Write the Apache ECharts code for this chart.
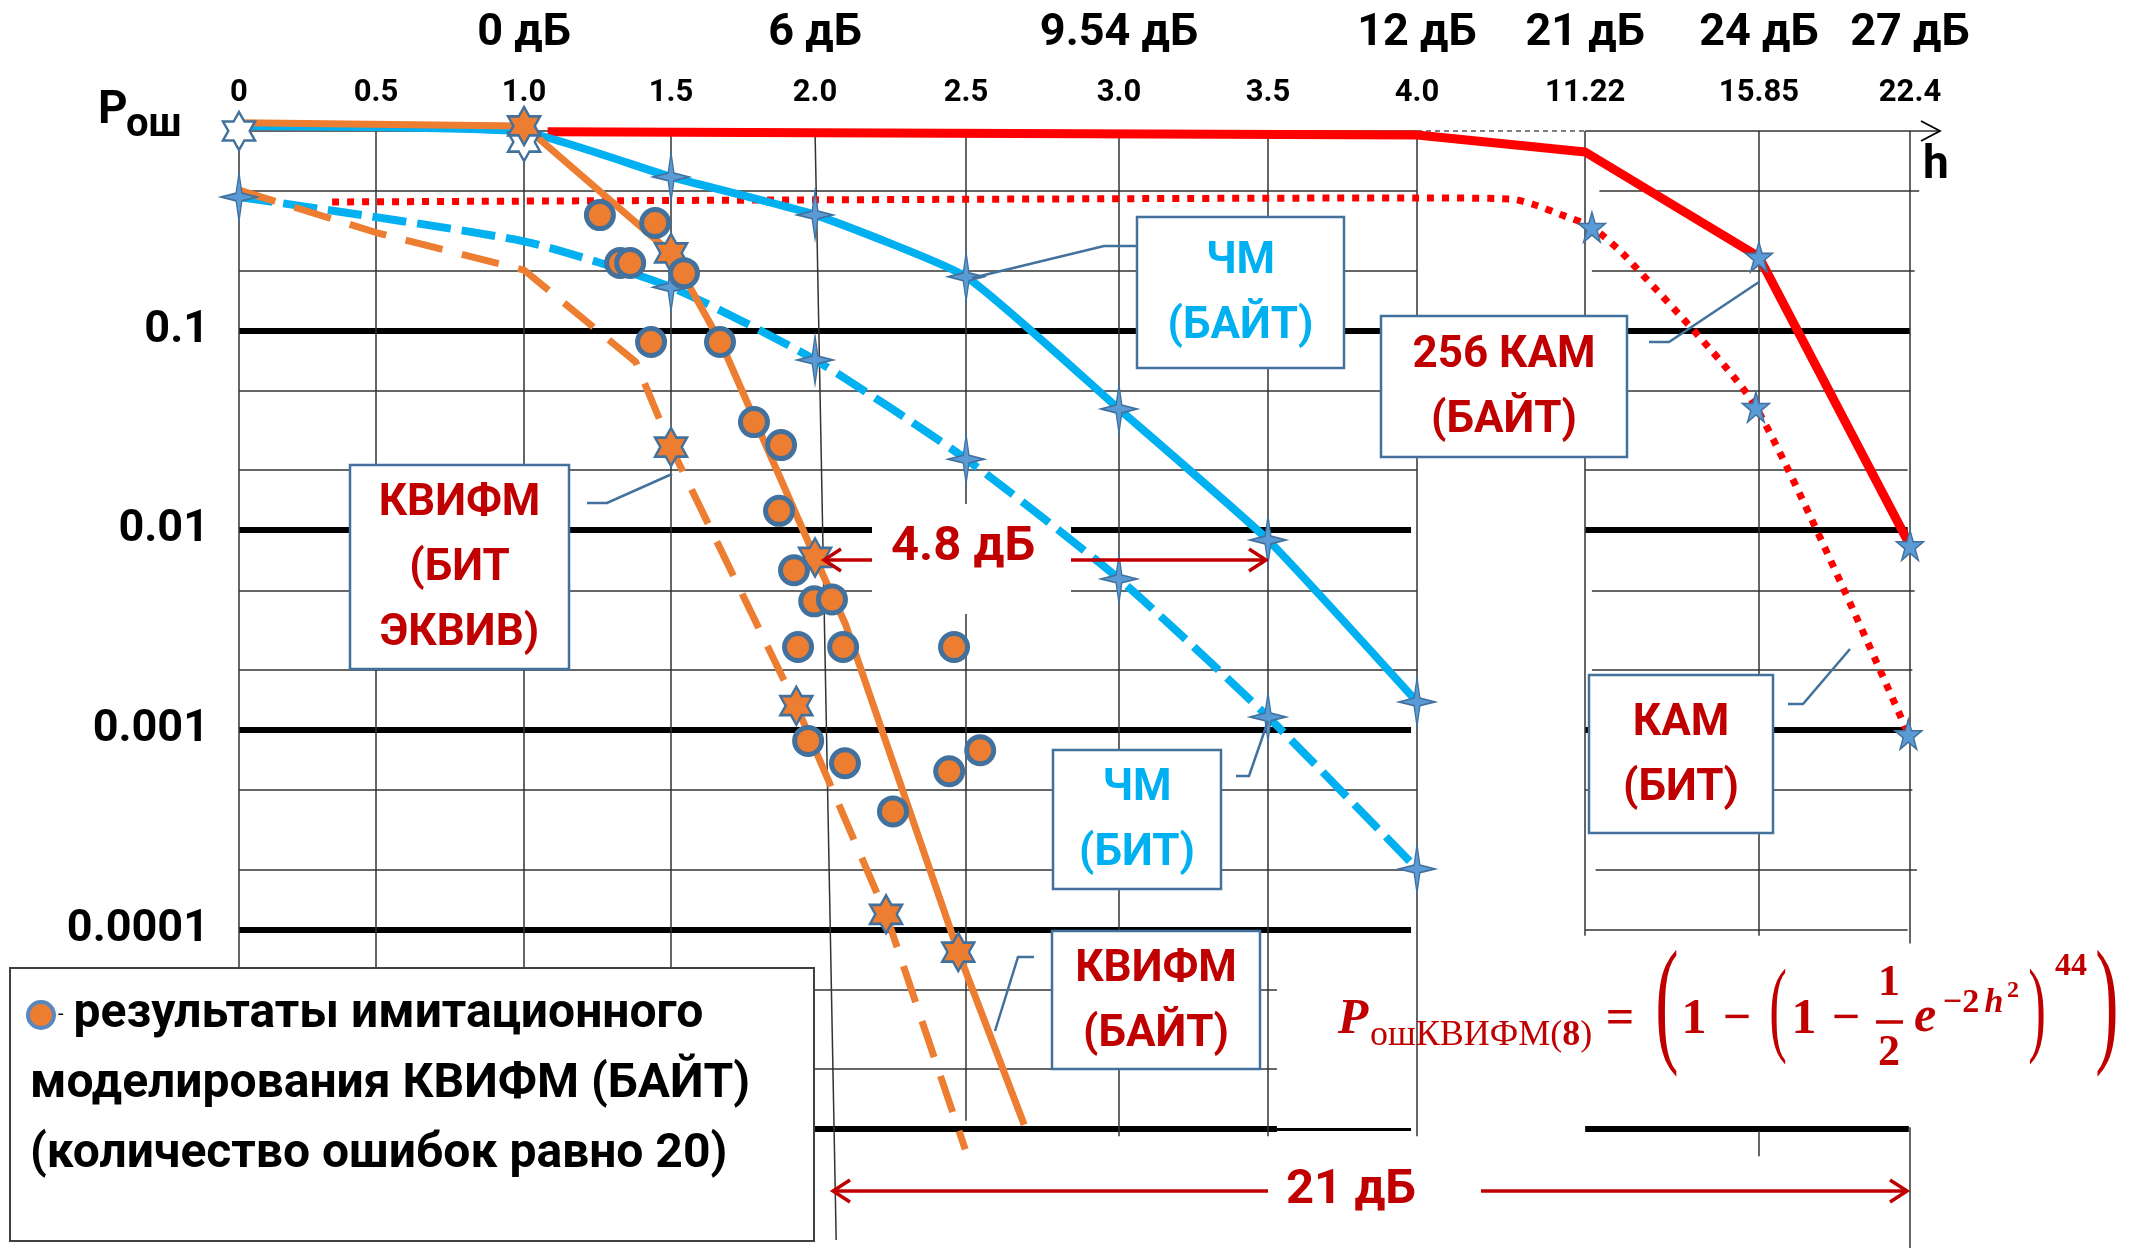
<!DOCTYPE html>
<html>
<head>
<meta charset="utf-8">
<script src="https://cdn.jsdelivr.net/npm/echarts@6/dist/echarts.min.js"></script>
<style>
  html, body { margin: 0; padding: 0; background: #fff; }
  #chart { width: 2138px; height: 1248px; }
</style>
</head>
<body>
<div id="chart"></div>
<script>
// ---- h axis ticks (signal/noise ratio h) and their dB equivalents ----
const hTicks = [0, 0.5, 1.0, 1.5, 2.0, 2.5, 3.0, 3.5, 4.0, 11.22, 15.85, 22.4];
const hTickLabels = ['0', '0.5', '1.0', '1.5', '2.0', '2.5', '3.0', '3.5', '4.0', '11.22', '15.85', '22.4'];
const dbLabels = ['', '', '0 дБ', '', '6 дБ', '', '9.54 дБ', '', '12 дБ', '21 дБ', '24 дБ', '27 дБ'];

// ---- error probability ticks ----
const pTicks = [0.1, 0.01, 0.001, 0.0001];
const pTickLabels = ['0.1', '0.01', '0.001', '0.0001'];

// ---- ЧМ (БАЙТ) ----
const fmByteH = [0, 1.0, 1.5, 2.0, 2.5, 3.0, 3.5, 4.0];
const fmByteP = [1.06, 0.99, 0.589, 0.38, 0.186, 0.0405, 0.00893, 0.00138];
// ---- ЧМ (БИТ) ----
const fmBitH = [0, 1.0, 1.5, 2.0, 2.5, 3.0, 3.5, 4.0];
const fmBitP = [0.467, 0.28, 0.165, 0.0713, 0.0227, 0.0057, 0.00116, 0.000201];
// ---- КВИФМ (БАЙТ) ----
const kvByteH = [0, 1.0, 1.5, 1.677, 2.0, 2.1, 2.474, 2.69];
const kvByteP = [1.1, 1.06, 0.245, 0.0847, 0.0073, 0.0034, 0.000077, 0.0000105];
// ---- КВИФМ (БИТ ЭКВИВ) ----
const kvBitH = [0, 0.5, 1.0, 1.38, 1.5, 1.935, 2.235, 2.497];
const kvBitP = [0.506, 0.31, 0.201, 0.0696, 0.0261, 0.00132, 0.000119, 0.0000079];
// ---- 256 КАМ (БАЙТ) ----
const qamByteH = [1.08, 4.0, 11.22, 15.85, 22.4];
const qamByteP = [0.99, 0.955, 0.785, 0.234, 0.0084];
// ---- КАМ (БИТ) ----
const qamBitH = [0.34, 4.0, 8.08, 9.07, 10.23, 11.4, 12.31, 15.77, 22.33];
const qamBitP = [0.441, 0.462, 0.456, 0.426, 0.379, 0.33, 0.234, 0.0414, 0.00095];

// ---- computed points marked with stars ----
const fmStarH = [1.5, 2.0, 2.5, 3.0, 3.5, 4.0, 0, 1.5, 2.0, 2.5, 3.0, 3.5, 4.0];
const fmStarP = [0.589, 0.38, 0.186, 0.0405, 0.00893, 0.00138, 0.467, 0.165, 0.0713, 0.0227, 0.0057, 0.00116, 0.000201];
const kvStarH = [1.0, 1.5, 2.0, 2.474, 1.5, 1.935, 2.235];
const kvStarP = [1.06, 0.245, 0.0073, 0.000077, 0.0261, 0.00132, 0.000119];
const openStarH = [0, 1.0];
const openStarP = [1.0, 0.88];
const qamStarH = [15.85, 22.4, 11.4, 15.77, 22.33];
const qamStarP = [0.234, 0.0084, 0.33, 0.0414, 0.00095];

// ---- simulation results КВИФМ (БАЙТ), 20 errors per point ----
const simH = [1.258, 1.446, 1.327, 1.361, 1.545, 1.432, 1.670, 1.788, 1.882, 1.875, 1.927,
              1.997, 2.056, 1.941, 2.093, 2.460, 1.976, 2.099, 2.444, 2.546, 2.258];
const simP = [0.379, 0.346, 0.218, 0.218, 0.194, 0.0877, 0.0877, 0.0348, 0.0267, 0.0125, 0.0063,
              0.0044, 0.0045, 0.0026, 0.0026, 0.0026, 0.00088, 0.00068, 0.00062, 0.00079, 0.00039];

// Broken h axis: tick values are placed at these axis units (linear 0..4, compressed beyond).
const AXIS_UNITS = [0, 0.465, 0.968, 1.467, 1.956, 2.469, 2.988, 3.494, 4.0, 4.571, 5.161, 5.674];
function hToAxis(h) {
  const H = hTicks, U = AXIS_UNITS, n = H.length;
  if (h <= H[0]) return U[0] + (h - H[0]) * (U[1] - U[0]) / (H[1] - H[0]);
  for (let i = 1; i < n; i++) {
    if (h <= H[i]) return U[i - 1] + (h - H[i - 1]) * (U[i] - U[i - 1]) / (H[i] - H[i - 1]);
  }
  return U[n - 1] + (h - H[n - 1]) * (U[n - 1] - U[n - 2]) / (H[n - 1] - H[n - 2]);
}
const pts = (H, P) => H.map((h, i) => [hToAxis(h), P[i]]);

const CYAN = '#00B0F0', ORANGE = '#ED7D31', RED = '#FF0000', DARK_RED = '#C00000';
const MARK_BORDER = '#41719C', MARK_BLUE = '#5B9BD5';
const SANS = 'Roboto';
const SERIF = '"Liberation Serif", "DejaVu Serif", serif';

const STAR4 = 'path://M0,-50 L8,-8 L50,0 L8,8 L0,50 L-8,8 L-50,0 L-8,-8 Z';
const STAR6 = 'path://M0,-100 L28.9,-50 L86.6,-50 L57.7,0 L86.6,50 L28.9,50 L0,100 L-28.9,50 L-86.6,50 L-57.7,0 L-86.6,-50 L-28.9,-50 Z';
const STAR5 = 'path://M0,-100 L22.5,-30.9 L95.1,-30.9 L36.3,11.8 L58.8,80.9 L0,38.2 L-58.8,80.9 L-36.3,11.8 L-95.1,-30.9 L-22.5,-30.9 Z';

// ---- grid lines of the nomogram (drawn as segments, the panels are broken) ----
const THIN = { color: '#333', width: 1.5, type: 'solid' };
const THICK = { color: '#000', width: 6, type: 'solid' };
const MED = { color: '#000', width: 3, type: 'solid' };
const DASH = { color: '#555', width: 1.5, type: [5, 4] };
const hSeg = (p, h1, h2, st) => [{ coord: [hToAxis(h1), p], lineStyle: st }, { coord: [hToAxis(h2), p] }];
const vSeg = (h1, p1, h2, p2, st) => [{ coord: [hToAxis(h1), p1], lineStyle: st }, { coord: [hToAxis(h2), p2] }];

const gridSegs = [
  hSeg(1, 0, 4.0, THIN), hSeg(1, 4.0, 11.22, DASH), hSeg(1, 11.22, 23.7, THIN),
  hSeg(0.5, 0, 4.0, THIN), hSeg(0.5, 11.6, 22.8, THIN),
  hSeg(0.2, 0, 4.0, THIN), hSeg(0.2, 11.4, 22.6, THIN),
  hSeg(0.1, 0, 22.4, THICK),
  hSeg(0.05, 0, 4.0, THIN), hSeg(0.05, 11.22, 22.4, THIN),
  hSeg(0.02, 0, 4.0, THIN), hSeg(0.02, 11.22, 22.3, THIN),
  hSeg(0.01, 0, 3.98, THICK), hSeg(0.01, 11.22, 22.3, THICK),
  hSeg(0.005, 0, 4.0, THIN), hSeg(0.005, 11.4, 22.6, THIN),
  hSeg(0.002, 0, 4.03, THIN), hSeg(0.002, 11.4, 22.5, THIN),
  hSeg(0.001, 0, 3.98, THICK), hSeg(0.001, 11.22, 22.35, THICK),
  hSeg(0.0005, 0, 4.0, THIN), hSeg(0.0005, 11.22, 22.5, THIN),
  hSeg(0.0002, 0, 4.03, THIN), hSeg(0.0002, 11.5, 22.7, THIN),
  hSeg(0.0001, 0, 3.98, THICK), hSeg(0.0001, 11.22, 22.3, THIN),
  hSeg(0.00005, 0, 3.53, THIN),
  hSeg(0.00002, 0, 3.53, THIN),
  hSeg(0.00001, 0, 3.53, THICK), hSeg(0.00001, 3.53, 3.98, MED), hSeg(0.00001, 11.22, 22.35, THICK),
  vSeg(0, 1, 0, 1e-5, THIN), vSeg(0.5, 1, 0.5, 1e-5, THIN), vSeg(1.0, 1, 1.0, 1e-5, THIN), vSeg(1.5, 1, 1.5, 1e-5, THIN),
  vSeg(2.0, 1, 2.07, Math.pow(10, -5.556), THIN),
  vSeg(2.5, 1, 2.5, 1.1e-5, THIN),
  vSeg(3.0, 1, 3.0, 9.2e-6, THIN), vSeg(3.5, 1, 3.5, 9.2e-6, THIN), vSeg(4.0, 1, 4.0, 9.2e-6, THIN),
  vSeg(11.22, 1, 11.22, 9.3e-5, THIN),
  vSeg(15.85, 1, 15.85, 9.3e-5, THIN), vSeg(15.85, 9.8e-6, 15.85, 7.3e-6, THIN),
  vSeg(22.4, 1, 22.4, 8.5e-5, THIN), vSeg(22.4, 1.02e-5, 22.4, Math.pow(10, -5.6), THIN)
];

const chart = echarts.init(document.getElementById('chart'));

const lineSeries = (name, H, P, color, width, type, smooth) => ({
  name, type: 'line', data: pts(H, P), z: 3, symbol: 'none', smooth: smooth || false,
  lineStyle: { color, width, type, cap: 'butt', join: 'round' }, silent: true
});
const starSeries = (name, H, P, symbol, size, fill, bw) => ({
  name, type: 'scatter', data: pts(H, P), z: 5, symbol, symbolSize: size, silent: true,
  itemStyle: { color: fill, borderColor: MARK_BORDER, borderWidth: bw, opacity: 1 }
});

const option = {
  backgroundColor: '#fff',
  animation: false,
  textStyle: { fontFamily: SANS },
  grid: { left: 239, top: 111.04, width: 5.85 * 294.5, height: 5.72 * 199.6, containLabel: false, outerBoundsMode: 'none' },
  xAxis: {
    type: 'value', position: 'top', min: 0, max: 5.85,
    axisLine: { show: false, onZero: false }, axisTick: { show: false }, splitLine: { show: false },
    axisLabel: {
      customValues: hTicks.map(hToAxis), margin: 0, color: '#000',
      formatter: (v) => {
        let i = 0, best = Infinity;
        hTicks.forEach((h, k) => { const d = Math.abs(hToAxis(h) - v); if (d < best) { best = d; i = k; } });
        return dbLabels[i] ? `{db|${dbLabels[i]}}\n{t|${hTickLabels[i]}}` : `{t|${hTickLabels[i]}}`;
      },
      rich: {
        db: { fontSize: 45, fontWeight: 'bold', fontFamily: SANS, color: '#000', lineHeight: 82 },
        t: { fontSize: 31, fontWeight: 'bold', fontFamily: SANS, color: '#000', lineHeight: 36 }
      }
    }
  },
  yAxis: {
    type: 'log', logBase: 10, min: Math.pow(10, -5.62), max: Math.pow(10, 0.1),
    axisLine: { show: false }, axisTick: { show: false }, splitLine: { show: false },
    axisLabel: {
      margin: 30, fontSize: 45, fontWeight: 'bold', color: '#000', fontFamily: SANS,
      formatter: (v) => {
        const k = Math.log10(v);
        const i = pTicks.findIndex(p => Math.abs(Math.log10(p) - k) < 1e-6);
        return i >= 0 ? pTickLabels[i] : '';
      }
    }
  },
  legend: {
    show: true, data: ['результаты имитационного моделирования КВИФМ (БАЙТ)'],
    left: 24, top: 980, icon: 'none', itemWidth: 1, itemHeight: 1, z: 60, selectedMode: false,
    padding: 0,
    formatter: () => '{c|}{d|-}результаты имитационного\nмоделирования КВИФМ (БАЙТ)\n(количество ошибок равно 20)',
    textStyle: {
      fontFamily: SANS, fontWeight: 'bold', fontSize: 48, lineHeight: 70, color: '#000',
      rich: {
        c: { width: 22, height: 22, backgroundColor: ORANGE, borderColor: '#5A87BD', borderWidth: 4, borderRadius: 13 },
        d: { fontSize: 20, fontWeight: 'normal', color: '#000', padding: [0, 10, 0, 6] }
      }
    }
  },
  series: [
    {
      name: 'grid', type: 'line', data: [], z: 1, silent: true, symbol: 'none',
      markLine: { silent: true, z: 1, symbol: ['none', 'none'], animation: false, label: { show: false },
        emphasis: { disabled: true }, precision: 6, data: gridSegs }
    },
    lineSeries('256 КАМ (БАЙТ)', qamByteH, qamByteP, RED, 9, 'solid', false),
    lineSeries('КАМ (БИТ)', qamBitH, qamBitP, RED, 7, [7, 8], 0.2),
    lineSeries('ЧМ (БАЙТ)', fmByteH, fmByteP, CYAN, 8, 'solid', 0.15),
    lineSeries('ЧМ (БИТ)', fmBitH, fmBitP, CYAN, 8, [34, 11], 0.2),
    lineSeries('КВИФМ (БИТ ЭКВИВ)', kvBitH, kvBitP, ORANGE, 7, [38, 20], false),
    lineSeries('КВИФМ (БАЙТ)', kvByteH, kvByteP, ORANGE, 7, 'solid', false),
    starSeries('open stars', openStarH, openStarP, STAR6, [32, 38], '#fff', 2.5),
    starSeries('ЧМ points', fmStarH, fmStarP, STAR4, [36, 48], MARK_BLUE, 1.5),
    starSeries('КАМ points', qamStarH, qamStarP, STAR5, [27, 30], MARK_BLUE, 1.5),
    starSeries('КВИФМ points', kvStarH, kvStarP, STAR6, [32, 38], ORANGE, 2.5),
    {
      name: 'результаты имитационного моделирования КВИФМ (БАЙТ)', type: 'scatter', z: 6, silent: true,
      data: pts(simH, simP), symbol: 'circle', symbolSize: 27,
      itemStyle: { color: ORANGE, borderColor: MARK_BORDER, borderWidth: 5, opacity: 1 }
    }
  ]
};
chart.setOption(option);

// ---- annotations ----
const px = (h, p) => chart.convertToPixel({ gridIndex: 0 }, [hToAxis(h), p]);

function labelBox(x, y, w, h, lines, color) {
  return {
    type: 'group', x, y, z: 50, children: [
      { type: 'rect', z: 50, shape: { x: 0, y: 0, width: w, height: h },
        style: { fill: '#fff', stroke: MARK_BORDER, lineWidth: 2.5 } },
      { type: 'text', z: 51, style: { text: lines.join('\n'), x: w / 2, y: h / 2 + 2, align: 'center',
        verticalAlign: 'middle', font: `bold 44px ${SANS}`, fill: color, lineHeight: 65 } }
    ]
  };
}
const connector = (points) => ({ type: 'polyline', z: 50, shape: { points },
  style: { stroke: MARK_BORDER, lineWidth: 2.5, fill: null } });
const redLine = (x1, y1, x2, y2) => ({ type: 'line', z: 50, shape: { x1, y1, x2, y2 },
  style: { stroke: DARK_RED, lineWidth: 3.5 } });
const chevron = (x, y, dir, color, lw) => ({ type: 'polyline', z: 50,
  shape: { points: [[x - dir * 17, y - 11], [x, y], [x - dir * 17, y + 11]] },
  style: { stroke: color, lineWidth: lw, fill: null } });
const txt = (text, x, y, font, fill, opts = {}) => ({
  type: 'text', z: 52, x, y, scaleX: opts.sx || 1,
  style: { text, x: 0, y: 0, font, fill, align: opts.align || 'center', verticalAlign: 'middle' }
});

const axisTip = px(23.7, 1);
const graphic = [
  // arrow head of the h axis and its name
  { type: 'polyline', z: 50, shape: { points: [[axisTip[0] - 19, axisTip[1] - 10], axisTip, [axisTip[0] - 19, axisTip[1] + 10]] },
    style: { stroke: '#000', lineWidth: 1.8, fill: null } },
  txt('h', 1936, 166, `bold 46px ${SANS}`, '#000'),
  txt('P', 98, 111, `bold 46px ${SANS}`, '#000', { align: 'left' }),
  txt('ош', 126, 126, `bold 40px ${SANS}`, '#000', { align: 'left' }),

  // 4.8 dB gap between ЧМ and КВИФМ at 0.005
  { type: 'rect', z: 2, shape: { x: 872, y: 504, width: 199, height: 110 }, style: { fill: '#fff' } },
  txt('4.8 дБ', 963, 548, `bold 49px ${SANS}`, DARK_RED),
  redLine(872, 560, 824, 560), chevron(824, 560, -1, DARK_RED, 3.5),
  redLine(1071, 560, 1266, 560), chevron(1266, 560, 1, DARK_RED, 3.5),

  // 21 dB gap between КВИФМ and КАМ
  txt('21 дБ', 1351, 1191, `bold 49px ${SANS}`, DARK_RED),
  redLine(1268, 1191, 833, 1191), chevron(833, 1191, -1, DARK_RED, 3.5),
  redLine(1481, 1191, 1907, 1191), chevron(1907, 1191, 1, DARK_RED, 3.5),

  // curve labels
  connector([[1137, 246], [1104, 246], [972, 278]]),
  labelBox(1137, 217, 207, 151, ['ЧМ', '(БАЙТ)'], CYAN),
  connector([[1649, 342], [1669, 342], [1759, 282]]),
  labelBox(1381, 316, 246, 141, ['256 КАМ', '(БАЙТ)'], DARK_RED),
  connector([[587, 503], [607, 503], [672, 474]]),
  labelBox(350, 465, 219, 204, ['КВИФМ', '(БИТ', 'ЭКВИВ)'], DARK_RED),
  connector([[1236, 776], [1249, 776], [1268, 721]]),
  labelBox(1053, 750, 168, 139, ['ЧМ', '(БИТ)'], CYAN),
  connector([[1034, 957], [1018, 957], [995, 1031]]),
  labelBox(1052, 931, 208, 138, ['КВИФМ', '(БАЙТ)'], DARK_RED),
  connector([[1788, 704], [1803, 704], [1850, 649]]),
  labelBox(1589, 675, 184, 158, ['КАМ', '(БИТ)'], DARK_RED),

  // legend frame
  { type: 'rect', z: 40, shape: { x: 10, y: 968, width: 804, height: 273 },
    style: { fill: '#fff', stroke: '#404040', lineWidth: 2 } },

  // error probability formula
  txt('P', 1353, 1020, `italic bold 50px ${SERIF}`, DARK_RED),
  { type: 'text', z: 52, x: 1370, y: 1036, style: { text: '{a|ошКВИФМ(}{b|8}{a|)}', x: 0, y: 0, align: 'left', verticalAlign: 'middle',
      rich: { a: { fontSize: 36, fontFamily: SERIF, fill: DARK_RED }, b: { fontSize: 36, fontFamily: SERIF, fontWeight: 'bold', fill: DARK_RED } } } },
  txt('=', 1620, 1020, `bold 50px ${SERIF}`, DARK_RED),
  txt('(', 1667, 1010, `140px ${SERIF}`, DARK_RED, { sx: 0.5 }),
  txt('1', 1694, 1020, `bold 50px ${SERIF}`, DARK_RED),
  txt('−', 1737, 1020, `bold 50px ${SERIF}`, DARK_RED),
  txt('(', 1778, 1014, `106px ${SERIF}`, DARK_RED, { sx: 0.5 }),
  txt('1', 1804, 1020, `bold 50px ${SERIF}`, DARK_RED),
  txt('−', 1846, 1020, `bold 50px ${SERIF}`, DARK_RED),
  txt('1', 1889, 984, `bold 44px ${SERIF}`, DARK_RED),
  { type: 'line', z: 52, shape: { x1: 1876, y1: 1022, x2: 1903, y2: 1022 }, style: { stroke: DARK_RED, lineWidth: 3.5 } },
  txt('2', 1889, 1054, `bold 44px ${SERIF}`, DARK_RED),
  txt('e', 1925, 1018, `italic bold 50px ${SERIF}`, DARK_RED),
  txt('−2', 1961, 1003, `bold 34px ${SERIF}`, DARK_RED),
  txt('h', 1994, 1003, `italic bold 34px ${SERIF}`, DARK_RED),
  txt('2', 2013, 991, `bold 24px ${SERIF}`, DARK_RED),
  txt(')', 2037, 1014, `106px ${SERIF}`, DARK_RED, { sx: 0.5 }),
  txt('44', 2071, 967, `bold 32px ${SERIF}`, DARK_RED),
  txt(')', 2107, 1010, `140px ${SERIF}`, DARK_RED, { sx: 0.5 })
];
chart.setOption({ graphic });
</script>
</body>
</html>
